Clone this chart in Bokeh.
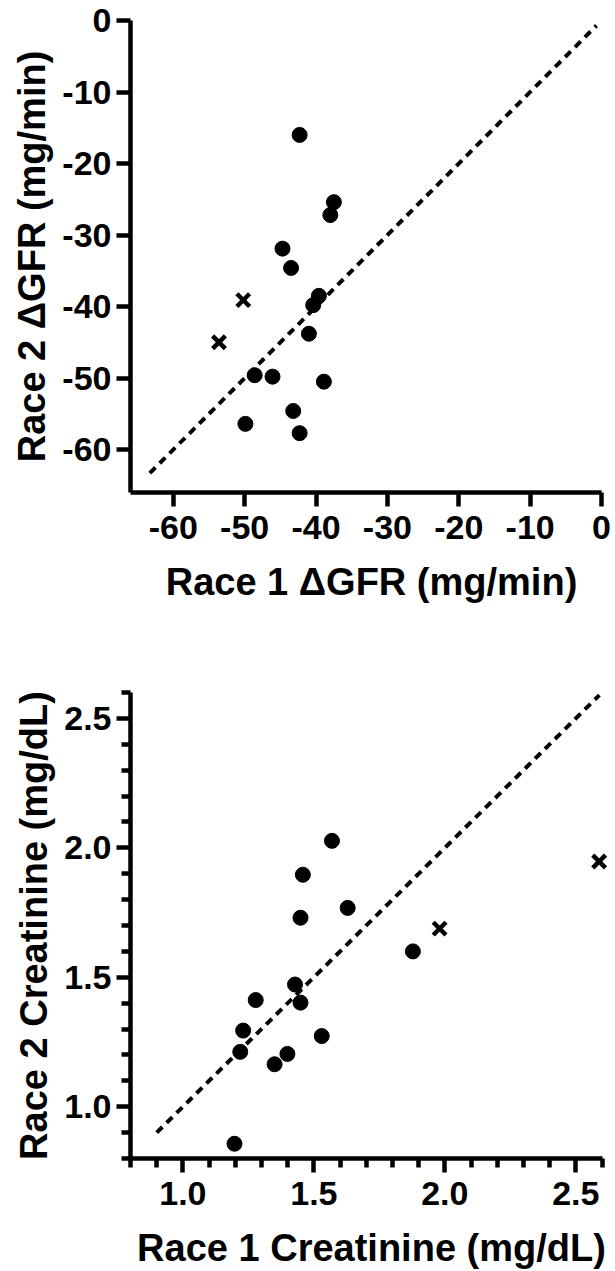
from bokeh.plotting import figure
from bokeh.models import Range1d, FixedTicker, PrintfTickFormatter
from bokeh.layouts import column
from bokeh.embed import file_html
from bokeh.resources import INLINE

# ---- Panel A: GFR change ----
gfr_race1 = [-42.3, -37.5, -38.0, -44.7, -43.5, -39.6, -40.4, -41.0, -48.6, -46.1, -38.9, -43.2, -49.9, -42.3]
gfr_race2 = [-16.0, -25.4, -27.2, -31.9, -34.6, -38.5, -39.8, -43.8, -49.6, -49.8, -50.5, -54.6, -56.4, -57.7]
gfr_x_race1 = [-50.2, -53.6]
gfr_x_race2 = [-39.1, -45.0]
gfr_identity = [-63.3, -0.7]
gfr_ticks = [-60, -50, -40, -30, -20, -10, 0]

# ---- Panel B: Creatinine ----
cr_race1 = [1.569, 1.458, 1.449, 1.629, 1.878, 1.428, 1.278, 1.449, 1.230, 1.530, 1.219, 1.399, 1.350, 1.197]
cr_race2 = [2.027, 1.896, 1.730, 1.768, 1.600, 1.472, 1.412, 1.402, 1.294, 1.273, 1.212, 1.204, 1.164, 0.857]
cr_x_race1 = [1.98, 2.589]
cr_x_race2 = [1.688, 1.947]
cr_identity = [0.9, 2.59]
cr_ticks = [1.0, 1.5, 2.0, 2.5]
cr_minor = [0.8, 0.9, 1.1, 1.2, 1.3, 1.4, 1.6, 1.7, 1.8, 1.9, 2.1, 2.2, 2.3, 2.4, 2.6]

FONT = "Liberation Sans"
LW = 4.5


def style_axes(p):
    for ax in (p.xaxis[0], p.yaxis[0]):
        ax.axis_line_width = LW
        ax.axis_line_color = "black"
        ax.major_tick_line_width = LW
        ax.major_tick_line_color = "black"
        ax.minor_tick_line_width = LW
        ax.minor_tick_line_color = "black"
        ax.major_tick_in = 0
        ax.major_tick_out = 14
        ax.minor_tick_in = 0
        ax.minor_tick_out = 9
        ax.major_label_text_font = FONT
        ax.major_label_text_font_style = "bold"
        ax.major_label_text_font_size = "34px"
        ax.major_label_text_color = "black"
        ax.axis_label_text_font = FONT
        ax.axis_label_text_font_style = "bold"
        ax.axis_label_text_font_size = "38px"
        ax.axis_label_text_color = "black"
    p.xaxis[0].major_label_standoff = 9
    p.xaxis[0].axis_label_standoff = 19
    p.yaxis[0].major_label_standoff = 5
    p.yaxis[0].axis_label_standoff = 6
    p.grid.visible = False
    p.outline_line_color = None
    p.background_fill_color = "white"
    p.border_fill_color = "white"


# Both frames are 482 px wide; the visible x axis (bounds) covers the first 471 px,
# the extra room on the right keeps edge markers from being clipped.

# Top panel
p1 = figure(width=615, height=620, output_backend="svg", toolbar_location=None,
            x_range=Range1d(-66, 1.54), y_range=Range1d(-66, 0),
            min_border_left=130, min_border_right=3, min_border_top=20, min_border_bottom=128)
p1.line(gfr_identity, gfr_identity, line_color="black", line_width=4, line_dash="8 6")
p1.scatter(gfr_race1, gfr_race2, marker="circle", size=15, fill_color="black", line_color="black")
p1.scatter(gfr_x_race1, gfr_x_race2, marker="x", size=18, line_color="black", line_width=4.5)
p1.xaxis.ticker = FixedTicker(ticks=gfr_ticks, minor_ticks=[])
p1.yaxis.ticker = FixedTicker(ticks=gfr_ticks, minor_ticks=[])
p1.xaxis.bounds = (-66, 0)
p1.xaxis.formatter = PrintfTickFormatter(format="%d")
p1.yaxis.formatter = PrintfTickFormatter(format="%d")
p1.xaxis.axis_label = "Race 1 \u0394GFR (mg/min)"
p1.yaxis.axis_label = "Race 2 \u0394GFR (mg/min)"
style_axes(p1)

# Bottom panel
p2 = figure(width=615, height=651, output_backend="svg", toolbar_location=None,
            x_range=Range1d(0.8, 2.64), y_range=Range1d(0.8, 2.6),
            min_border_left=130, min_border_right=3, min_border_top=72, min_border_bottom=108)
p2.line(cr_identity, cr_identity, line_color="black", line_width=4, line_dash="8 6")
p2.scatter(cr_race1, cr_race2, marker="circle", size=15, fill_color="black", line_color="black")
p2.scatter(cr_x_race1, cr_x_race2, marker="x", size=18, line_color="black", line_width=4.5)
p2.xaxis.ticker = FixedTicker(ticks=cr_ticks, minor_ticks=cr_minor)
p2.yaxis.ticker = FixedTicker(ticks=cr_ticks, minor_ticks=cr_minor)
p2.xaxis.bounds = (0.8, 2.6)
p2.xaxis.formatter = PrintfTickFormatter(format="%.1f")
p2.yaxis.formatter = PrintfTickFormatter(format="%.1f")
p2.xaxis.axis_label = "Race 1 Creatinine (mg/dL)"
p2.yaxis.axis_label = "Race 2 Creatinine (mg/dL)"
style_axes(p2)

layout = column(p1, p2)
open("out.html", "w").write(file_html(layout, INLINE))
